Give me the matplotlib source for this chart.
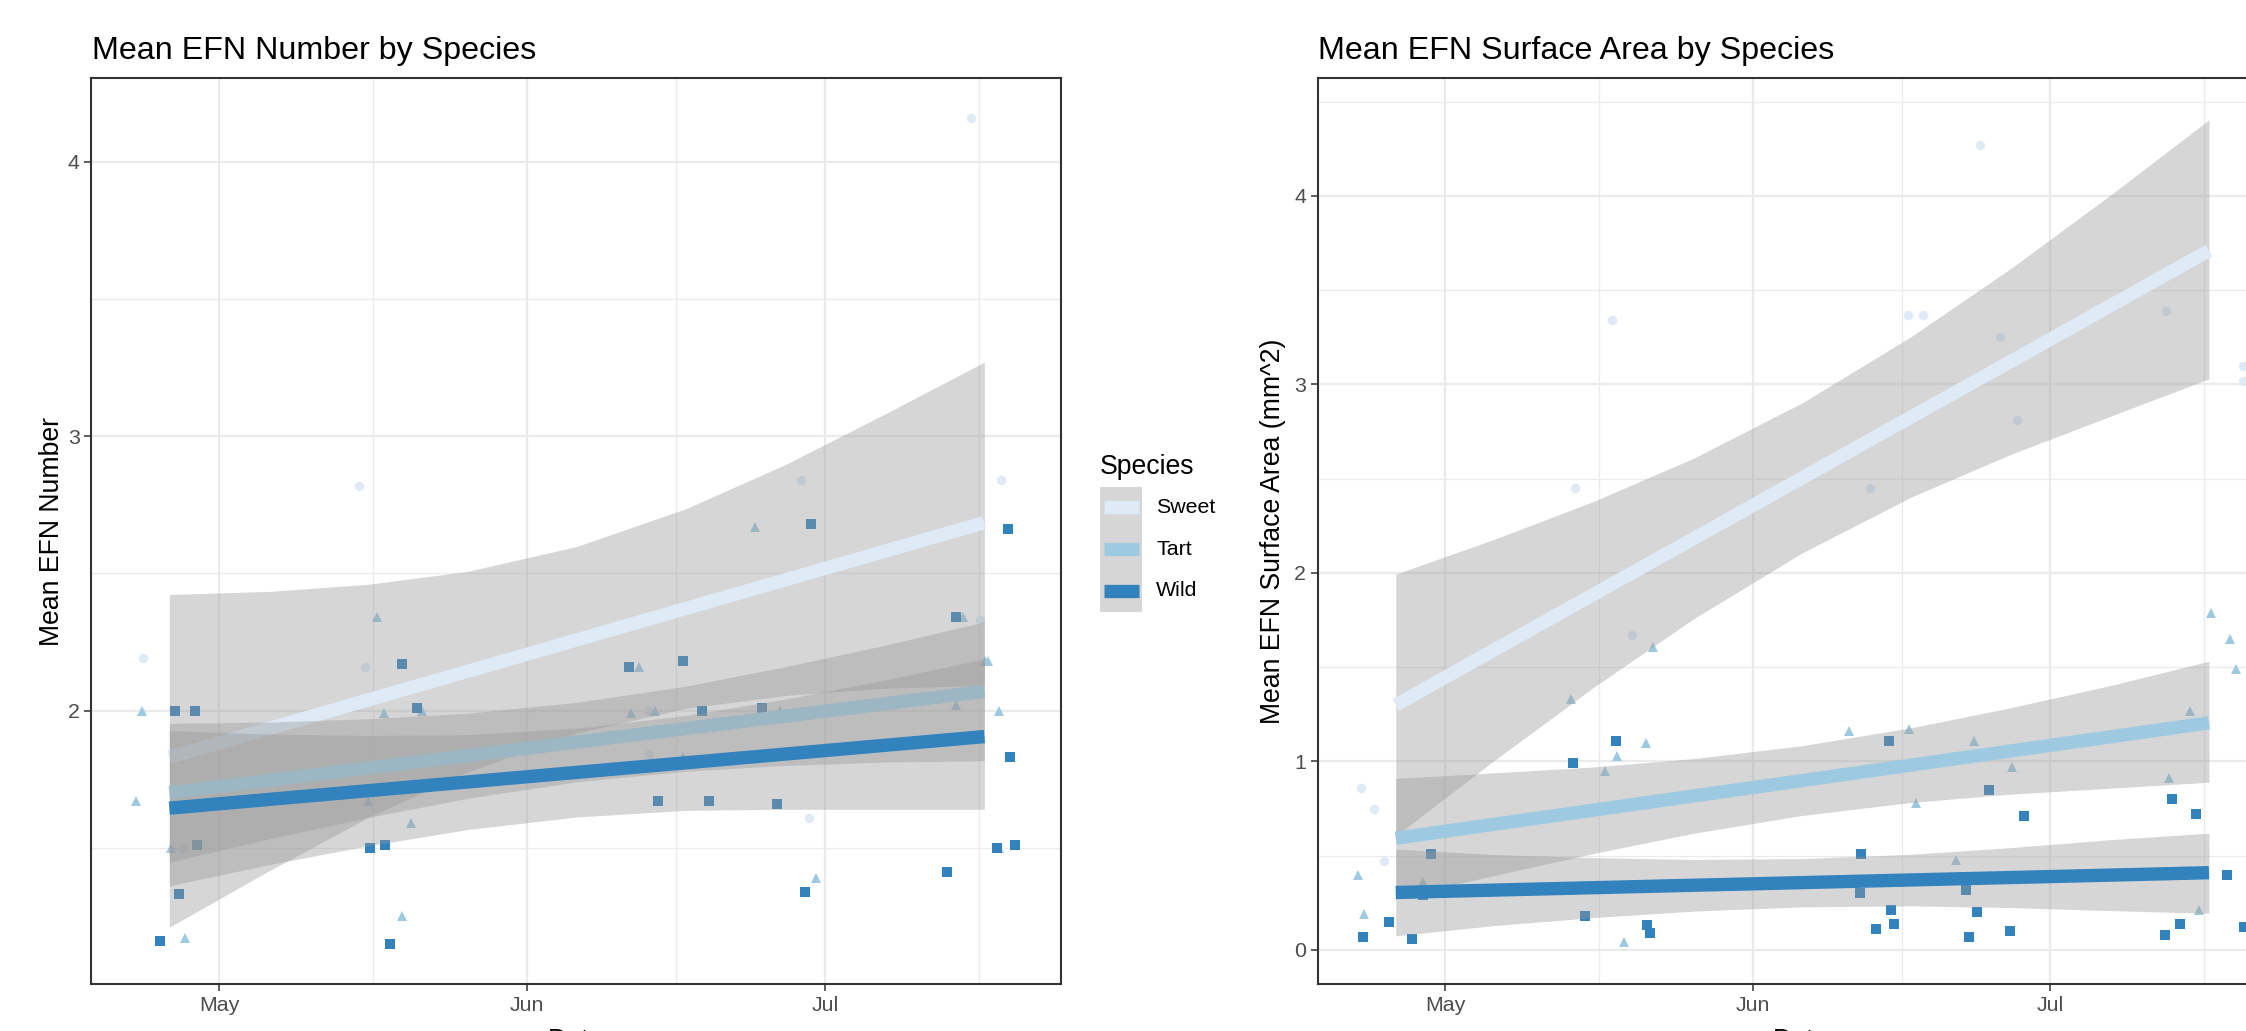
import numpy as np
import matplotlib
matplotlib.use('Agg')
import matplotlib.pyplot as plt
import matplotlib.dates as mdates
from matplotlib.patches import Rectangle
from matplotlib.lines import Line2D

plt.rcParams['font.family'] = ['Liberation Sans', 'DejaVu Sans']

W, H = 2246, 1031

species = ['Sweet', 'Tart', 'Wild']
colors = {'Sweet': '#DEEBF7', 'Tart': '#9ECAE1', 'Wild': '#3182BD'}
markers = {'Sweet': 'o', 'Tart': '^', 'Wild': 's'}
msizes = {'Sweet': 6.8, 'Tart': 7.6, 'Wild': 6.5}

# ---- data (x = days after 1 May) ----
# Mean EFN Number
num_sweet_day = [-7.6, 14.1, 14.7, -3.7, 43.3, 43.3, 58.6, 59.4, 75.7, 76.6, 78.7]
num_sweet_val = [2.19, 2.82, 2.16, 1.50, 2.00, 1.84, 2.84, 1.61, 4.16, 2.33, 2.84]
num_tart_day = [-7.7, -8.4, -4.8, -3.4, 15.9, 16.6, 20.4, 15.0, 19.3, 18.4, 41.4, 42.3,
                43.9, 46.7, 53.9, 56.4, 60.1, 74.1, 74.9, 77.1, 77.4, 78.5, 78.5]
num_tart_val = [2.00, 1.67, 1.50, 1.17, 2.34, 1.99, 2.00, 1.67, 1.59, 1.25, 1.99, 2.16,
                2.00, 1.83, 2.67, 2.00, 1.39, 2.02, 2.34, 2.18, 2.18, 2.00, 1.50]
num_wild_day = [-4.4, -2.4, -2.2, -4.0, -5.9, 18.4, 19.9, 15.2, 16.7, 17.2, 41.2, 46.7, 48.6,
                44.2, 49.3, 54.6, 56.1, 59.0, 59.6, 73.2, 74.1, 78.3, 79.4, 79.6, 80.1]
num_wild_val = [2.00, 2.00, 1.51, 1.33, 1.16, 2.17, 2.01, 1.50, 1.51, 1.15, 2.16, 2.18, 2.00,
                1.67, 1.67, 2.01, 1.66, 1.34, 2.68, 1.41, 2.34, 1.50, 2.66, 1.83, 1.51]

# Mean EFN Surface Area
area_sweet_day = [-8.55, -7.24, -6.16, 18.8, 16.8, 13.1, 46.7, 48.2, 53.9, 55.9, 57.6, 42.8,
                  72.7, 80.4, 80.4]
area_sweet_val = [0.86, 0.75, 0.47, 1.67, 3.34, 2.45, 3.37, 3.37, 4.27, 3.25, 2.81, 2.45,
                  3.39, 3.10, 3.02]
area_tart_day = [-8.83, -8.25, -2.29, 12.7, 17.3, 16.1, 18.0, 20.9, 20.2, 40.7, 46.8, 47.5,
                 51.5, 53.3, 57.1, 75.1, 73.0, 76.0, 77.2, 79.1, 79.7]
area_tart_val = [0.40, 0.19, 0.36, 1.33, 1.03, 0.95, 0.04, 1.61, 1.10, 1.16, 1.17, 0.78,
                 0.48, 1.11, 0.97, 1.27, 0.91, 0.21, 1.79, 1.65, 1.49]
area_wild_day = [-8.35, -5.65, -3.37, -1.45, -2.3, 12.9, 17.2, 14.1, 20.3, 20.6, 44.7, 41.9,
                 41.8, 44.9, 45.2, 43.4, 54.8, 58.4, 52.5, 53.6, 52.8, 56.9, 73.3, 75.7,
                 78.8, 74.1, 72.6, 80.5]
area_wild_val = [0.07, 0.15, 0.06, 0.51, 0.29, 0.99, 1.11, 0.18, 0.13, 0.09, 1.11, 0.51,
                 0.30, 0.21, 0.14, 0.11, 0.85, 0.71, 0.32, 0.20, 0.07, 0.10, 0.80, 0.72,
                 0.40, 0.14, 0.08, 0.12]

# smoother: line ends and ribbon edges read at these days
fit_ends = [-5, 77]
band_day = [-5, 5, 15, 25, 36, 47, 57, 67, 77]

num_sweet_fit = [1.83, 2.685]
num_sweet_hi = [2.423, 2.434, 2.460, 2.507, 2.598, 2.736, 2.897, 3.081, 3.270]
num_sweet_lo = [1.210, 1.415, 1.610, 1.776, 1.918, 2.008, 2.055, 2.081, 2.092]
num_tart_fit = [1.70, 2.07]
num_tart_hi = [1.953, 1.958, 1.970, 1.990, 2.030, 2.089, 2.160, 2.238, 2.323]
num_tart_lo = [1.447, 1.532, 1.610, 1.680, 1.740, 1.779, 1.800, 1.812, 1.817]
num_wild_fit = [1.644, 1.905]
num_wild_hi = [1.927, 1.914, 1.909, 1.912, 1.936, 1.982, 2.042, 2.111, 2.188]
num_wild_lo = [1.361, 1.438, 1.507, 1.566, 1.612, 1.636, 1.640, 1.640, 1.640]

area_sweet_fit = [1.30, 3.71]
area_sweet_hi = [1.994, 2.180, 2.381, 2.608, 2.903, 3.255, 3.615, 4.002, 4.404]
area_sweet_lo = [0.606, 1.008, 1.395, 1.756, 2.107, 2.403, 2.629, 2.830, 3.030]
area_tart_fit = [0.593, 1.205]
area_tart_hi = [0.910, 0.940, 0.971, 1.015, 1.084, 1.179, 1.285, 1.402, 1.532]
area_tart_lo = [0.276, 0.396, 0.513, 0.619, 0.714, 0.783, 0.827, 0.858, 0.890]
area_wild_fit = [0.305, 0.410]
area_wild_hi = [0.535, 0.506, 0.490, 0.480, 0.485, 0.508, 0.543, 0.585, 0.620]
area_wild_lo = [0.075, 0.130, 0.172, 0.206, 0.229, 0.234, 0.225, 0.209, 0.195]

base = mdates.date2num(np.datetime64('2019-05-01'))
minor_dates = ['2019-05-16T12:00', '2019-06-16T00:00', '2019-07-16T12:00']


def fx(px):
    return px / W


def fy(py):
    return 1 - py / H


def draw_panel(ax, pts, fits, ylim, yticks, yminor):
    ax.set_axisbelow(True)
    for sp in species:
        d, v = pts[sp]
        ax.plot(base + np.array(d), v, linestyle='none', marker=markers[sp],
                markersize=msizes[sp], markerfacecolor=colors[sp],
                markeredgewidth=0, zorder=2)
    z = 3
    for sp in species:
        fit, lo, hi = fits[sp]
        ax.fill_between(base + np.array(band_day), lo, hi, color='#999999',
                        alpha=0.4, linewidth=0, zorder=z)
        ax.plot(base + np.array(fit_ends), fit, color=colors[sp], lw=9.6,
                solid_capstyle='butt', zorder=z + 1)
        z += 2
    ax.set_xlim(base - 12.86, base + 84.75)
    ax.set_ylim(*ylim)
    ax.xaxis.set_major_locator(mdates.MonthLocator())
    ax.xaxis.set_major_formatter(mdates.DateFormatter('%b'))
    ax.xaxis.set_minor_locator(matplotlib.ticker.FixedLocator(
        [mdates.date2num(np.datetime64(s)) for s in minor_dates]))
    ax.set_yticks(yticks)
    ax.set_yticklabels([str(t) for t in yticks])
    ax.set_yticks(yminor, minor=True)
    ax.grid(which='major', color='#EBEBEB', lw=1.6)
    ax.grid(which='minor', color='#EBEBEB', lw=0.9)
    ax.tick_params(which='major', length=4.8, width=1.1, color='#333333',
                   labelcolor='#4D4D4D', labelsize=15.4, pad=3.6)
    ax.tick_params(which='minor', length=0)
    for s in ax.spines.values():
        s.set_color('#333333')
        s.set_linewidth(1.5)


fig = plt.figure(figsize=(W / 100, H / 100), dpi=100)
fig.patch.set_facecolor('white')

ax1 = fig.add_axes([fx(91.2), fy(984.3), (1061.4 - 91.2) / W, (984.3 - 77.6) / H])
ax2 = fig.add_axes([fx(1317.8), fy(984.3), (2285.8 - 1317.8) / W, (984.3 - 77.6) / H])

draw_panel(ax1,
           {'Sweet': (num_sweet_day, num_sweet_val),
            'Tart': (num_tart_day, num_tart_val),
            'Wild': (num_wild_day, num_wild_val)},
           {'Sweet': (num_sweet_fit, num_sweet_lo, num_sweet_hi),
            'Tart': (num_tart_fit, num_tart_lo, num_tart_hi),
            'Wild': (num_wild_fit, num_wild_lo, num_wild_hi)},
           (1.002, 4.307), [2, 3, 4], [1.5, 2.5, 3.5])
draw_panel(ax2,
           {'Sweet': (area_sweet_day, area_sweet_val),
            'Tart': (area_tart_day, area_tart_val),
            'Wild': (area_wild_day, area_wild_val)},
           {'Sweet': (area_sweet_fit, area_sweet_lo, area_sweet_hi),
            'Tart': (area_tart_fit, area_tart_lo, area_tart_hi),
            'Wild': (area_wild_fit, area_wild_lo, area_wild_hi)},
           (-0.182, 4.628), [0, 1, 2, 3, 4], [0.5, 1.5, 2.5, 3.5, 4.5])

# titles
fig.text(fx(91.5), fy(58.5), 'Mean EFN Number by Species', ha='left', va='baseline',
         fontsize=23.2)
fig.text(fx(1318), fy(58.5), 'Mean EFN Surface Area by Species', ha='left', va='baseline',
         fontsize=23.2)

# axis titles
fig.text(fx(52), fy(531), 'Mean EFN Number', rotation=90, ha='center', va='center',
         fontsize=19.2)
fig.text(fx(1273), fy(531), 'Mean EFN Surface Area (mm^2)', rotation=90, ha='center',
         va='center', fontsize=19.2)
fig.text(fx(576), fy(1028), 'Date', ha='center', va='top', fontsize=19.2)
fig.text(fx(1801), fy(1028), 'Date', ha='center', va='top', fontsize=19.2)

# legend
fig.text(fx(1100), fy(474.5), 'Species', ha='left', va='baseline', fontsize=19.2)
key_top = 486.5
key_h = 41.7
for i, sp in enumerate(species):
    top = key_top + i * key_h
    fig.patches.append(Rectangle((fx(1100), fy(top + key_h)), 42.4 / W, key_h / H,
                                 transform=fig.transFigure, facecolor='#D6D6D6',
                                 edgecolor='none'))
    yc = fy(top + key_h / 2)
    fig.add_artist(Line2D([fx(1103.5), fx(1138.8)], [yc, yc], transform=fig.transFigure,
                          color=colors[sp], lw=9.6, solid_capstyle='butt'))
    fig.text(fx(1156.3), yc, sp, ha='left', va='center', fontsize=15.4)

fig.savefig('out.png', dpi=100)
